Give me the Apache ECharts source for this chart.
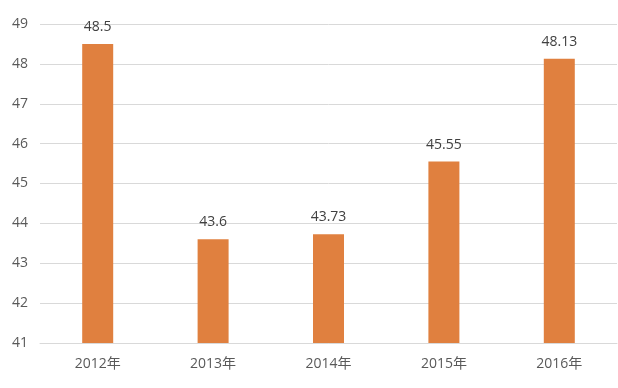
<!DOCTYPE html>
<html><head><meta charset="utf-8">
<script src="https://cdn.jsdelivr.net/npm/echarts@6/dist/echarts.min.js"></script>
<style>html,body{margin:0;padding:0;background:#fff}#c{width:618px;height:388px}</style>
</head><body><div id="c"></div>
<script>
const categories = ['2012年','2013年','2014年','2015年','2016年'];
const values = [48.5, 43.6, 43.73, 45.55, 48.13];
const yTicks = [41,42,43,44,45,46,47,48,49];

const chart = echarts.init(document.getElementById('c'), null, {renderer:'canvas'});
chart.setOption({
  animation:false,
  grid:{left:40, right:1, top:24, bottom:45, containLabel:false},
  xAxis:{type:'category', data:categories,
    axisLine:{show:true, lineStyle:{color:'#d9d9d9'}},
    axisTick:{show:false},
    axisLabel:{color:'#595959', fontSize:14, margin:14, fontFamily:'"Open Sans","Noto Sans CJK SC",sans-serif'}},
  yAxis:{type:'value', min:yTicks[0], max:yTicks[yTicks.length-1], interval:1,
    axisLine:{show:false}, axisTick:{show:false},
    splitLine:{lineStyle:{color:'#d9d9d9'}},
    axisLabel:{color:'#595959', fontSize:14, margin:12, fontFamily:'"Open Sans",sans-serif'}},
  series:[{type:'bar', data:values, barWidth:31,
    itemStyle:{color:'#E0803F'},
    label:{show:true, position:'top', distance:10, color:'#404040', fontSize:14, fontFamily:'"Open Sans",sans-serif'}}]
});
</script></body></html>
